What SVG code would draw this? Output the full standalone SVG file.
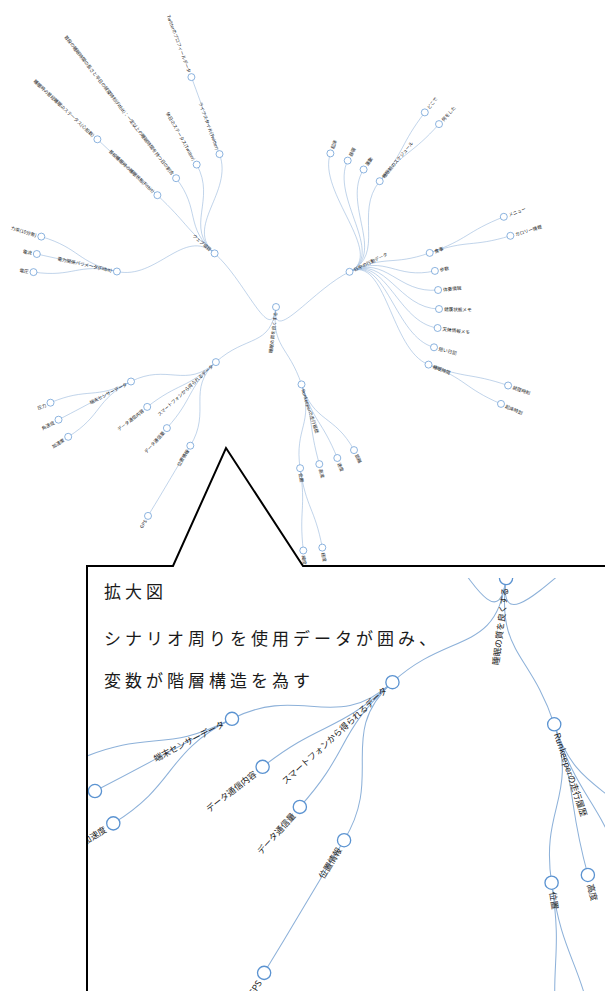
<svg xmlns="http://www.w3.org/2000/svg" width="605" height="991" viewBox="0 0 605 991">
<style>
.lk path{fill:none;stroke:#8db1d9;stroke-width:.55}
.nd circle{fill:#fff;stroke:#5b93d1;stroke-width:.7}
.nd text{font-family:"Noto Sans CJK JP","Noto Sans",sans-serif;font-size:4.6px;fill:#222;dominant-baseline:central}
.nd text.l{text-anchor:end}
.cap{font-family:"Noto Sans CJK JP",sans-serif;font-size:17px;fill:#1a1a1a;letter-spacing:4px;font-weight:400}
.frame{fill:none;stroke:#000;stroke-width:2;stroke-linejoin:miter}
</style>
<defs>
<clipPath id="magclip"><rect x="88" y="578" width="517" height="413"/></clipPath>
<g id="tree">
<g id="links" class="lk">
<path d="M276,307C271,347.4 245.3,280.2 214.6,253.4"/>
<path d="M276,307C271,347.4 312.7,289.4 349.5,271.8"/>
<path d="M276,307C271,347.4 246,334.5 215.9,362.1"/>
<path d="M276,307C271,347.4 288.7,345.7 301.5,384.4"/>
<path d="M214.6,253.4C183.9,226.6 233.6,192.3 219.5,154.1"/>
<path d="M214.6,253.4C183.9,226.6 216.6,200.2 196.7,164.6"/>
<path d="M214.6,253.4C183.9,226.6 201.1,210.4 176.1,178.2"/>
<path d="M214.6,253.4C183.9,226.6 187,223.2 157.4,195.2"/>
<path d="M214.6,253.4C183.9,226.6 156.7,280.3 116.9,271.5"/>
<path d="M219.5,154.1C205.2,115.7 205.6,115.5 191.4,77.1"/>
<path d="M157.4,195.2C127.5,167.1 127.3,167.4 97.4,139.3"/>
<path d="M116.9,271.5C76.9,262.5 80.6,248.4 41.3,236.6"/>
<path d="M116.9,271.5C76.9,262.5 76.8,262.9 36.8,254"/>
<path d="M116.9,271.5C76.9,262.5 74.1,277.9 33.5,272.1"/>
<path d="M349.5,271.8C386.2,254.2 316.8,191.8 330.4,153.4"/>
<path d="M349.5,271.8C386.2,254.2 329.8,197.2 347.7,160.6"/>
<path d="M349.5,271.8C386.2,254.2 341.7,203.9 363.6,169.5"/>
<path d="M349.5,271.8C386.2,254.2 353.8,212.7 379.7,181.2"/>
<path d="M349.5,271.8C386.2,254.2 391.3,266.4 429.7,252.9"/>
<path d="M349.5,271.8C386.2,254.2 395.2,279.9 434.9,270.9"/>
<path d="M349.5,271.8C386.2,254.2 397.6,294.2 438.1,290"/>
<path d="M349.5,271.8C386.2,254.2 398.2,308.5 439,309"/>
<path d="M349.5,271.8C386.2,254.2 397.2,322.7 437.6,328"/>
<path d="M349.5,271.8C386.2,254.2 394.5,337.2 434,347.3"/>
<path d="M349.5,271.8C386.2,254.2 390.4,350.2 428.5,364.6"/>
<path d="M379.7,181.2C405.8,149.6 399.9,144.9 424.8,112.4"/>
<path d="M379.7,181.2C405.8,149.6 411.7,154.7 439,124.1"/>
<path d="M429.7,252.9C468.4,239.2 465.7,231.9 503.8,216.8"/>
<path d="M429.7,252.9C468.4,239.2 471.2,247.7 510.4,235.8"/>
<path d="M428.5,364.6C466.8,379.1 469.2,372.4 508.1,385.5"/>
<path d="M428.5,364.6C466.8,379.1 463.4,387.7 501,403.9"/>
<path d="M215.9,362.1C185.9,389.6 167.3,362.9 131,381.5"/>
<path d="M215.9,362.1C185.9,389.6 179.4,381.9 147.2,406.9"/>
<path d="M215.9,362.1C185.9,389.6 194.2,397.8 166.9,428.1"/>
<path d="M215.9,362.1C185.9,389.6 211.8,411 190.3,445.7"/>
<path d="M131,381.5C94.6,400.2 88.2,386.7 50.5,402.7"/>
<path d="M131,381.5C94.6,400.2 94.9,400.9 58.5,419.7"/>
<path d="M131,381.5C94.6,400.2 103,415.1 68.2,436.8"/>
<path d="M190.3,445.7C168.8,480.6 169.4,480.9 148,515.9"/>
<path d="M301.5,384.4C314.2,423.1 294.1,427.9 300.1,468.2"/>
<path d="M301.5,384.4C314.2,423.1 308.5,424.9 319.3,464.1"/>
<path d="M301.5,384.4C314.2,423.1 322,420.3 337.3,458"/>
<path d="M301.5,384.4C314.2,423.1 334.5,414.3 354,450.1"/>
<path d="M300.1,468.2C306.2,508.8 298.8,509.7 303.3,550.5"/>
<path d="M300.1,468.2C306.2,508.8 314.6,507.3 322.3,547.6"/>
</g>
<g id="nodes">
<g id="n-root" class="nd" transform="translate(276,307)"><circle r="3.5"/><text class="l" x="-5" transform="rotate(-83)">睡眠の質を良くする</text></g>
<g id="n-a" class="nd" transform="translate(214.6,253.4)"><circle r="3.5"/><text class="l" x="-5" transform="rotate(41.1)">ウェブ項目</text></g>
<g id="n-a1" class="nd" transform="translate(219.5,154.1)"><circle r="3.5"/><text class="l" x="-5" transform="rotate(69.7)">ライフスタイル(Twitter)</text></g>
<g id="n-a1a" class="nd" transform="translate(191.4,77.1)"><circle r="3.5"/><text class="l" x="-5" transform="rotate(69.8)">Twitterのプロフィールデータ</text></g>
<g id="n-a2" class="nd" transform="translate(196.7,164.6)"><circle r="3.5"/><text class="l" x="-5" transform="rotate(60.9)">休日のステータス(Twitter)</text></g>
<g id="n-a3" class="nd" transform="translate(176.1,178.2)"><circle r="3.5"/><text class="l" x="-5" transform="rotate(52.2)">普段の睡眠時間の長さと平日の就寝時刻(Fitbit)：一定以上の睡眠時間を持つ日の割合</text></g>
<g id="n-a4" class="nd" transform="translate(157.4,195.2)"><circle r="3.5"/><text class="l" x="-5" transform="rotate(43.3)">普段睡眠時の睡眠状態(Fitbit)</text></g>
<g id="n-a4a" class="nd" transform="translate(97.4,139.3)"><circle r="3.5"/><text class="l" x="-5" transform="rotate(43.2)">睡眠時の普段睡眠のステータス(心拍数)</text></g>
<g id="n-a5" class="nd" transform="translate(116.9,271.5)"><circle r="3.5"/><text class="l" x="-5" transform="rotate(12.6)">電力関係パラメータ(Fitbit)</text></g>
<g id="n-a5a" class="nd" transform="translate(41.3,236.6)"><circle r="3.5"/><text class="l" x="-5" transform="rotate(16.7)">力率(10分毎)</text></g>
<g id="n-a5b" class="nd" transform="translate(36.8,254)"><circle r="3.5"/><text class="l" x="-5" transform="rotate(12.5)">電流</text></g>
<g id="n-a5c" class="nd" transform="translate(33.5,272.1)"><circle r="3.5"/><text class="l" x="-5" transform="rotate(8.2)">電圧</text></g>
<g id="n-b" class="nd" transform="translate(349.5,271.8)"><circle r="3.5"/><text x="5" transform="rotate(-25.6)">日中の行動データ</text></g>
<g id="n-b1" class="nd" transform="translate(330.4,153.4)"><circle r="3.5"/><text x="5" transform="rotate(-70.5)">起床</text></g>
<g id="n-b2" class="nd" transform="translate(347.7,160.6)"><circle r="3.5"/><text x="5" transform="rotate(-63.9)">昼寝</text></g>
<g id="n-b3" class="nd" transform="translate(363.6,169.5)"><circle r="3.5"/><text x="5" transform="rotate(-57.5)">運動</text></g>
<g id="n-b4" class="nd" transform="translate(379.7,181.2)"><circle r="3.5"/><text x="5" transform="rotate(-50.5)">睡眠前のスケジュール</text></g>
<g id="n-b4a" class="nd" transform="translate(424.8,112.4)"><circle r="3.5"/><text x="5" transform="rotate(-52.6)">どこで</text></g>
<g id="n-b4b" class="nd" transform="translate(439,124.1)"><circle r="3.5"/><text x="5" transform="rotate(-48.3)">何をした</text></g>
<g id="n-b5" class="nd" transform="translate(429.7,252.9)"><circle r="3.5"/><text x="5" transform="rotate(-19.4)">食事</text></g>
<g id="n-b5a" class="nd" transform="translate(503.8,216.8)"><circle r="3.5"/><text x="5" transform="rotate(-21.6)">メニュー</text></g>
<g id="n-b5b" class="nd" transform="translate(510.4,235.8)"><circle r="3.5"/><text x="5" transform="rotate(-16.9)">カロリー情報</text></g>
<g id="n-b6" class="nd" transform="translate(434.9,270.9)"><circle r="3.5"/><text x="5" transform="rotate(-12.8)">歩数</text></g>
<g id="n-b7" class="nd" transform="translate(438.1,290)"><circle r="3.5"/><text x="5" transform="rotate(-6)">体重情報</text></g>
<g id="n-b8" class="nd" transform="translate(439,309)"><circle r="3.5"/><text x="5" transform="rotate(0.7)">健康状態メモ</text></g>
<g id="n-b9" class="nd" transform="translate(437.6,328)"><circle r="3.5"/><text x="5" transform="rotate(7.4)">天候情報メモ</text></g>
<g id="n-b10" class="nd" transform="translate(434,347.3)"><circle r="3.5"/><text x="5" transform="rotate(14.3)">短い日記</text></g>
<g id="n-b11" class="nd" transform="translate(428.5,364.6)"><circle r="3.5"/><text x="5" transform="rotate(20.7)">睡眠時間</text></g>
<g id="n-b11a" class="nd" transform="translate(508.1,385.5)"><circle r="3.5"/><text x="5" transform="rotate(18.7)">就寝時刻</text></g>
<g id="n-b11b" class="nd" transform="translate(501,403.9)"><circle r="3.5"/><text x="5" transform="rotate(23.3)">起床時刻</text></g>
<g id="n-c" class="nd" transform="translate(215.9,362.1)"><circle r="3.5"/><text class="l" x="-5" transform="rotate(-42.5)">スマートフォンから得られるデータ</text></g>
<g id="n-c1" class="nd" transform="translate(131,381.5)"><circle r="3.5"/><text class="l" x="-5" transform="rotate(-27.2)">端末センサーデータ</text></g>
<g id="n-c1a" class="nd" transform="translate(50.5,402.7)"><circle r="3.5"/><text class="l" x="-5" transform="rotate(-23)">圧力</text></g>
<g id="n-c1b" class="nd" transform="translate(58.5,419.7)"><circle r="3.5"/><text class="l" x="-5" transform="rotate(-27.4)">角速度</text></g>
<g id="n-c1c" class="nd" transform="translate(68.2,436.8)"><circle r="3.5"/><text class="l" x="-5" transform="rotate(-32)">加速度</text></g>
<g id="n-c2" class="nd" transform="translate(147.2,406.9)"><circle r="3.5"/><text class="l" x="-5" transform="rotate(-37.8)">データ通信内容</text></g>
<g id="n-c3" class="nd" transform="translate(166.9,428.1)"><circle r="3.5"/><text class="l" x="-5" transform="rotate(-48)">データ通信量</text></g>
<g id="n-c4" class="nd" transform="translate(190.3,445.7)"><circle r="3.5"/><text class="l" x="-5" transform="rotate(-58.3)">位置情報</text></g>
<g id="n-c4a" class="nd" transform="translate(148,515.9)"><circle r="3.5"/><text class="l" x="-5" transform="rotate(-58.5)">GPS</text></g>
<g id="n-d" class="nd" transform="translate(301.5,384.4)"><circle r="3.5"/><text x="5" transform="rotate(71.8)">Runkeeperの走行履歴</text></g>
<g id="n-d1" class="nd" transform="translate(300.1,468.2)"><circle r="3.5"/><text x="5" transform="rotate(81.5)">位置</text></g>
<g id="n-d1a" class="nd" transform="translate(303.3,550.5)"><circle r="3.5"/><text x="5" transform="rotate(83.6)">緯度</text></g>
<g id="n-d1b" class="nd" transform="translate(322.3,547.6)"><circle r="3.5"/><text x="5" transform="rotate(79.1)">経度</text></g>
<g id="n-d2" class="nd" transform="translate(319.3,464.1)"><circle r="3.5"/><text x="5" transform="rotate(74.6)">高度</text></g>
<g id="n-d3" class="nd" transform="translate(337.3,458)"><circle r="3.5"/><text x="5" transform="rotate(67.9)">速度</text></g>
<g id="n-d4" class="nd" transform="translate(354,450.1)"><circle r="3.5"/><text x="5" transform="rotate(61.4)">距離</text></g>
</g>
</g>
</defs>
<rect width="605" height="991" fill="#fff"/>
<use href="#tree"/>
<polygon points="87,566 173,566 226,448 303,566 605,566 605,991 87,991" fill="#fff"/>
<g clip-path="url(#magclip)"><use href="#tree" transform="translate(-15.6,-2.2) scale(1.89)"/></g>
<polyline class="frame" points="87,991 87,566 173,566 226,448 303,566 605,566"/>
<text class="cap" x="104" y="598">拡大図</text>
<text class="cap" x="104" y="645">シナリオ周りを使用データが囲み、</text>
<text class="cap" x="104" y="687">変数が階層構造を為す</text>
</svg>
